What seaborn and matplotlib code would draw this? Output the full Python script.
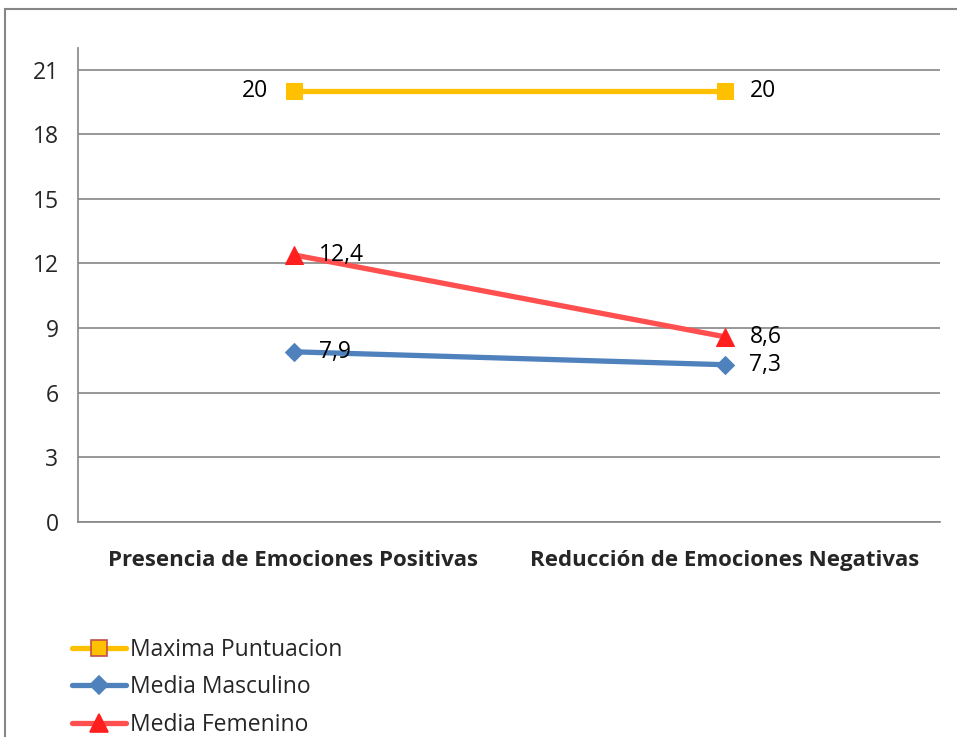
import matplotlib
matplotlib.use("Agg")
import matplotlib.pyplot as plt
import matplotlib.patches as mpatches
from matplotlib.lines import Line2D
import seaborn as sns
import pandas as pd

categories = ["Presencia de Emociones Positivas", "Reducción de Emociones Negativas"]
series_names = ["Maxima Puntuacion", "Media Masculino", "Media Femenino"]
maxima = [20, 20]
masculino = [7.9, 7.3]
femenino = [12.4, 8.6]
value_labels = {
    "Maxima Puntuacion": ["20", "20"],
    "Media Masculino": ["7,9", "7,3"],
    "Media Femenino": ["12,4", "8,6"],
}
yticks = [0, 3, 6, 9, 12, 15, 18, 21]

sns.set_theme(style="white")
plt.rcParams['font.family'] = ['Open Sans', 'DejaVu Sans']

rows = []
for name, vals in zip(series_names, [maxima, masculino, femenino]):
    for c, v in zip(categories, vals):
        rows.append({"cat": c, "val": v, "serie": name})
df = pd.DataFrame(rows)

colors = {"Maxima Puntuacion": "#FFC000", "Media Masculino": "#4F81BD", "Media Femenino": "#FF4F4F"}
mcolors = {"Maxima Puntuacion": "#FFC000", "Media Masculino": "#4F81BD", "Media Femenino": "#FF1F1F"}
markers = {"Maxima Puntuacion": "s", "Media Masculino": "D", "Media Femenino": "^"}
msizes = {"Maxima Puntuacion": 12, "Media Masculino": 9, "Media Femenino": 13}

fig = plt.figure(figsize=(9.57, 7.37), dpi=100)
ax = fig.add_axes([78/957, 1 - 522/737, (940-78)/957, (522-48)/737])

for name in series_names:
    sub = df[df["serie"] == name]
    sns.lineplot(data=sub, x="cat", y="val", ax=ax, color=colors[name], lw=3.8,
                 marker=markers[name], markersize=msizes[name],
                 markerfacecolor=mcolors[name], markeredgecolor=mcolors[name],
                 legend=False, sort=False)

ax.set_xlim(-0.5, 1.5)
ax.set_ylim(0, 22)
ax.set_yticks(yticks)
ax.set_xticks([0, 1])
ax.set_xticklabels(categories, fontweight="bold", fontsize=16)
ax.tick_params(axis='x', length=0, pad=20)
ax.set_xticks([-0.5, 0.5, 1.5], minor=True)
ax.tick_params(axis='x', which='minor', length=6, width=1, color='#868686', direction='out')
ax.tick_params(axis='y', length=6, width=1, color='#868686', direction='out', labelsize=16.5, pad=8)
ax.set_xlabel("")
ax.set_ylabel("")
ax.yaxis.grid(True, color="#868686", lw=1.2)
ax.set_axisbelow(True)
for s in ["top", "right"]:
    ax.spines[s].set_visible(False)
for s in ["left", "bottom"]:
    ax.spines[s].set_color("#868686")
    ax.spines[s].set_linewidth(1.2)

lab_font = dict(fontsize=16.5, color="black", va="center")
for name, vals in zip(series_names, [maxima, masculino, femenino]):
    labs = value_labels[name]
    for i, (v, t) in enumerate(zip(vals, labs)):
        if name == "Maxima Puntuacion" and i == 0:
            ax.annotate(t, (i, v), xytext=(-18, 0), textcoords="offset points", ha="right", **lab_font)
        else:
            ax.annotate(t, (i, v), xytext=(18, 0), textcoords="offset points", ha="left", **lab_font)

handles = []
for name in series_names:
    edge = "#C0504D" if name == "Maxima Puntuacion" else mcolors[name]
    handles.append(Line2D([0], [0], color=colors[name], lw=3.8, marker=markers[name],
                          markersize=msizes[name], markerfacecolor=mcolors[name],
                          markeredgecolor=edge, markeredgewidth=1.2))
fig.legend(handles, series_names, loc="upper left", bbox_to_anchor=(72/957, 1 - 638/737),
           frameon=False, fontsize=16.5, handlelength=2.35, handletextpad=0.2,
           labelspacing=0.58, borderaxespad=0, borderpad=0)

frame = mpatches.Rectangle((5/957, -0.2), 1.2, 1.2 - 9/737, transform=fig.transFigure,
                           fill=False, edgecolor="#868686", lw=1.5, clip_on=False)
fig.patches.append(frame)

fig.savefig("out.png", dpi=100)
